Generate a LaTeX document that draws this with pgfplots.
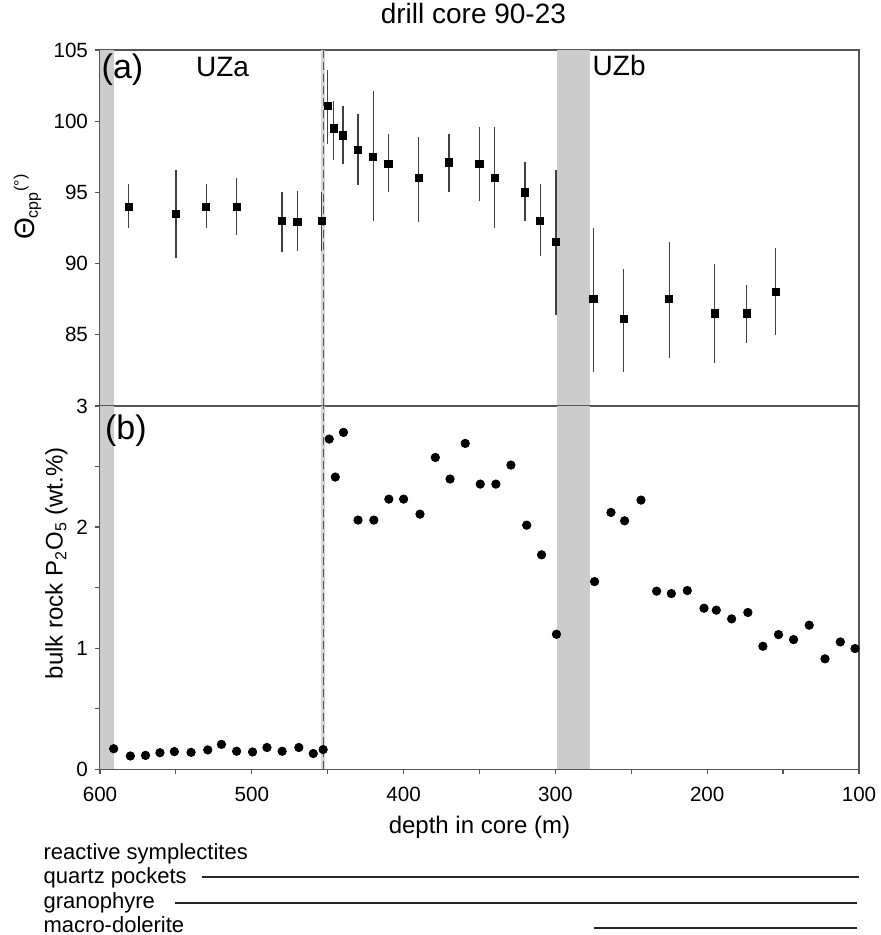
\documentclass[border=0pt]{standalone}
\usepackage{fontspec}
\setmainfont{Liberation Sans}
\usepackage{pgfplots}
\pgfplotsset{compat=1.18}
\usepackage{pgfplotstable}
\definecolor{band}{HTML}{CCCCCC}
\definecolor{axgray}{HTML}{555555}

\pgfplotstableread{
d t ep em
581 94.0 1.6 1.5
550 93.5 3.1 3.1
530 94.0 1.6 1.5
510 94.0 2.0 2.0
480 93.0 2.0 2.2
470 92.9 2.2 2.0
454 93.0 2.0 2.1
450 101.1 2.5 2.7
446 99.5 1.9 2.2
440 99.0 2.1 2.0
430 98.0 2.5 2.5
420 97.5 4.6 4.5
410 97.0 2.1 2.0
390 96.0 2.9 3.1
370 97.1 2.0 2.1
350 97.0 2.6 2.6
340 96.0 3.6 3.5
320 95.0 2.1 2.0
310 93.0 2.6 2.5
299.5 91.5 5.1 5.1
275 87.5 5.0 5.1
255 86.1 3.5 3.7
225 87.5 4.0 4.1
195 86.5 3.5 3.5
174 86.5 2.0 2.1
155 88.0 3.1 3.0
}\toptable

\pgfplotstableread{
d p
591 0.17
580 0.11
570 0.115
560.5 0.137
551 0.146
540 0.14
529 0.16
520 0.206
510 0.149
499.5 0.143
490 0.18
480 0.149
469 0.18
459.5 0.13
453 0.163
449 2.727
445 2.413
439.6 2.782
430 2.058
419.6 2.058
409.7 2.231
400 2.231
389.2 2.107
379.1 2.575
369.4 2.397
359.4 2.691
349.5 2.355
339.2 2.355
329.3 2.512
318.9 2.016
309.1 1.771
299.3 1.115
274.2 1.55
263.4 2.121
254.4 2.052
243.6 2.223
233.3 1.471
223.6 1.451
213.1 1.476
202.1 1.33
194 1.314
183.9 1.242
173.2 1.295
163.3 1.016
153 1.112
143.1 1.071
132.8 1.19
122.4 0.912
112.3 1.052
102.6 0.997
}\bottable

\pgfplotsset{
  common/.style={
    scale only axis, width=379.5pt,
    xmin=100, xmax=600, x dir=reverse,
    axis line style={axgray, line width=0.6pt},
    tick style={axgray, line width=0.6pt},
    major tick length=2.5pt,
    tick align=outside,
    ytick pos=left, xtick pos=bottom,
    ticklabel style={font=\fontsize{10.3}{12}\selectfont},
    /pgf/number format/assume math mode=true,
    label style={font=\fontsize{12}{14}\selectfont},
  }
}

\begin{document}
\begin{tikzpicture}
\useasboundingbox (-50pt,-82.85pt) rectangle (390pt,384.65pt);

% ---------- top panel ----------
\begin{axis}[common, at={(0,181.65pt)}, height=178pt,
  ymin=80, ymax=105, ytick={85,90,95,100,105}, xtick=\empty,
  title={drill core 90-23},
  title style={font=\fontsize{14}{16}\selectfont, at={(axis description cs:0.492,1)}, anchor=center, yshift=12.35pt},
  ylabel={{\fontsize{14}{14}\selectfont Θ}\textsubscript{cpp}\textsuperscript{(°)}},
  ylabel style={at={(axis description cs:-0.0955,0.56)}, anchor=center},
]
\addplot[draw=none, fill=band] coordinates {(600,80) (591,80) (591,105) (600,105)} -- cycle;
\addplot[draw=none, fill=band] coordinates {(299,80) (277,80) (277,105) (299,105)} -- cycle;
\addplot[band!80, line width=2pt] coordinates {(453,80) (453,105)};
\addplot[axgray, line width=0.6pt, dash pattern=on 4pt off 2pt] coordinates {(453,80) (453,105)};
\addplot[only marks, mark=square*, mark size=1.8pt, black,
  error bars/.cd, y dir=both, y explicit, error mark=none,
  error bar style={line width=0.65pt, black!75}]
  table[x=d, y=t, y error plus=ep, y error minus=em] {\toptable};
\node[font=\fontsize{17}{17}\selectfont] at (axis cs:585.2,103.65) {(a)};
\node[font=\fontsize{14}{14}\selectfont] at (axis cs:519.3,103.8) {UZa};
\node[font=\fontsize{14}{14}\selectfont] at (axis cs:258,103.9) {UZb};
\end{axis}

% ---------- bottom panel ----------
\begin{axis}[common, at={(0,0)}, height=181.65pt,
  ymin=0, ymax=3, ytick={0,0.5,...,3}, yticklabels={0,,1,,2,,3},
  xtick={100,150,...,600}, xticklabels={100,,200,,300,,400,,500,,600},
  xticklabel style={yshift=-3pt},
  xlabel={depth in core (m)},
  xlabel style={at={(axis description cs:0.5,0)}, anchor=center, yshift=-29pt},
  ylabel={bulk rock P\textsubscript{2}O\textsubscript{5} (wt.\%)},
  ylabel style={at={(axis description cs:-0.0573,0.567)}, anchor=center},
]
\addplot[draw=none, fill=band] coordinates {(600,0) (591,0) (591,3) (600,3)} -- cycle;
\addplot[draw=none, fill=band] coordinates {(299,0) (277,0) (277,3) (299,3)} -- cycle;
\addplot[band!80, line width=2pt] coordinates {(453,0) (453,3)};
\addplot[axgray, line width=0.6pt, dash pattern=on 4pt off 2pt] coordinates {(453,0) (453,3)};
\addplot[only marks, mark=*, mark size=2.1pt, black] table[x=d, y=p] {\bottable};
\node[font=\fontsize{17}{17}\selectfont] at (axis cs:582.9,2.80) {(b)};
\end{axis}

% ---------- occurrence bars ----------
\begin{axis}[scale only axis, width=379.5pt, height=47.5pt, at={(0,-82.85pt)},
  xmin=100, xmax=600, x dir=reverse, ymin=0, ymax=95,
  hide axis, clip=false]
\addplot[black!85, line width=1pt] coordinates {(533,58.3) (100,58.3)};
\addplot[black!85, line width=1pt] coordinates {(550.6,31.7) (101,31.7)};
\addplot[black!85, line width=1pt] coordinates {(274.4,6.7) (101,6.7)};
\node[anchor=west, inner sep=0pt, font=\fontsize{11}{13}\selectfont] at (axis cs:637.4,81.5) {reactive symplectites};
\node[anchor=west, inner sep=0pt, font=\fontsize{11}{13}\selectfont] at (axis cs:637.4,56.8) {quartz pockets};
\node[anchor=west, inner sep=0pt, font=\fontsize{11}{13}\selectfont] at (axis cs:637.4,32) {granophyre};
\node[anchor=west, inner sep=0pt, font=\fontsize{11}{13}\selectfont] at (axis cs:637.4,10) {macro-dolerite};
\end{axis}
\end{tikzpicture}
\end{document}
